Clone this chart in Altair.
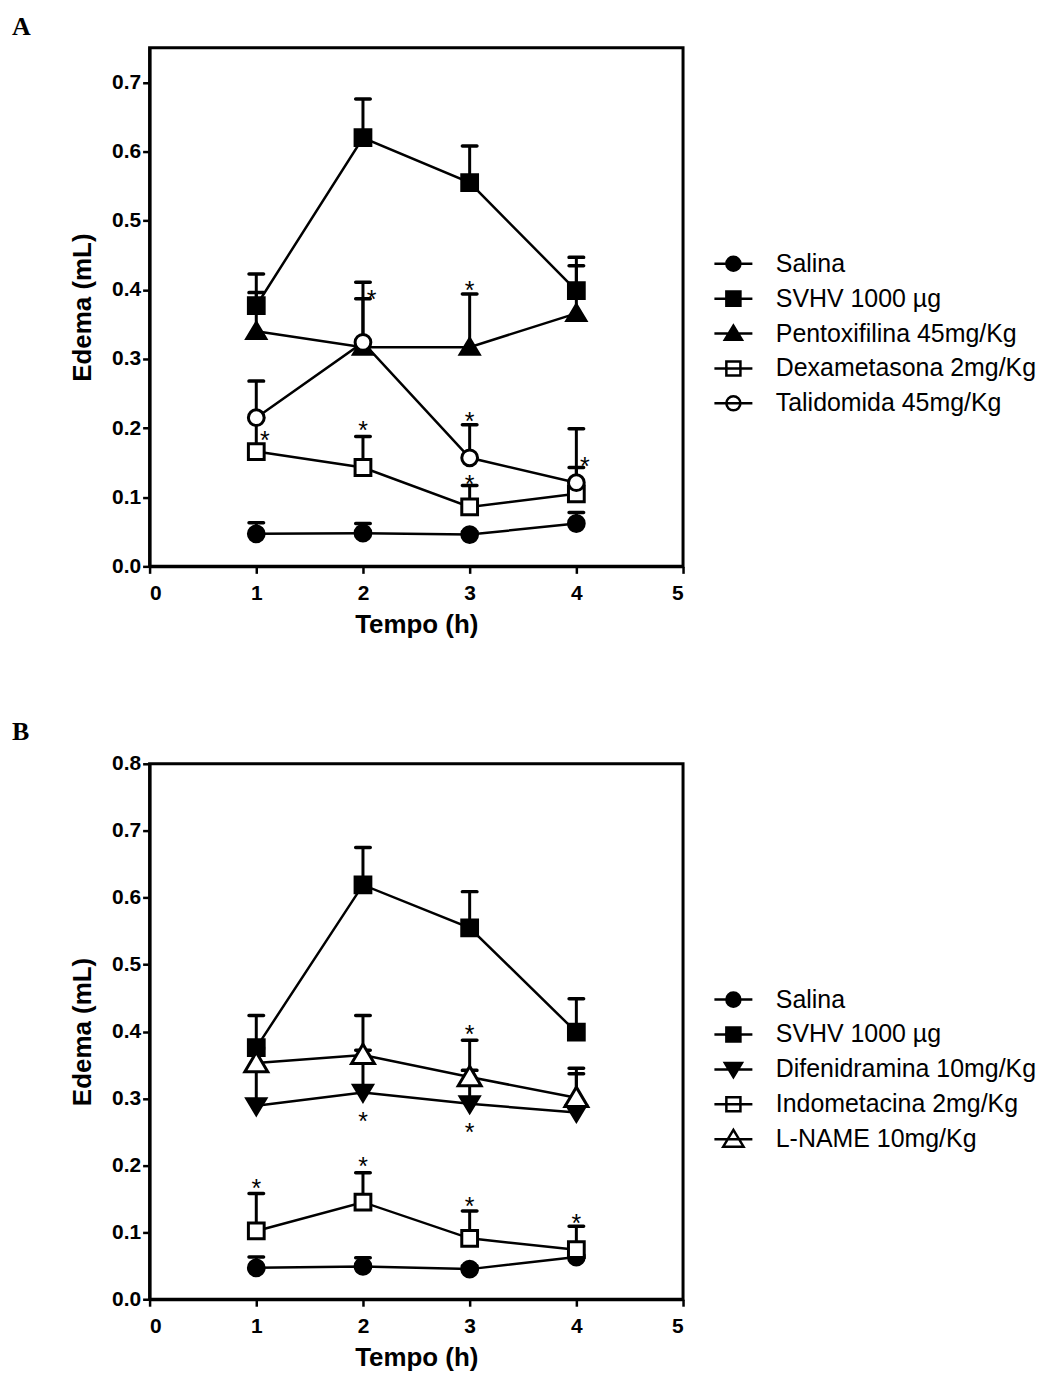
import altair as alt
import pandas as pd

times = [1, 2, 3, 4]

# ---------------- Panel A ----------------
a_series = ["Salina", "SVHV 1000 µg", "Pentoxifilina 45mg/Kg",
            "Dexametasona 2mg/Kg", "Talidomida 45mg/Kg"]
a_mean = {
    "Salina": [0.047, 0.048, 0.046, 0.062],
    "SVHV 1000 µg": [0.377, 0.620, 0.555, 0.399],
    "Pentoxifilina 45mg/Kg": [0.340, 0.317, 0.317, 0.366],
    "Dexametasona 2mg/Kg": [0.166, 0.143, 0.086, 0.105],
    "Talidomida 45mg/Kg": [0.215, 0.324, 0.157, 0.121],
}
a_top = {
    "Salina": [0.063, 0.062, 0.050, 0.078],
    "SVHV 1000 µg": [0.423, 0.676, 0.608, 0.447],
    "Pentoxifilina 45mg/Kg": [0.396, 0.387, 0.394, 0.435],
    "Dexametasona 2mg/Kg": [0.215, 0.188, 0.117, 0.143],
    "Talidomida 45mg/Kg": [0.268, 0.411, 0.205, 0.199],
}
a_open = ["Dexametasona 2mg/Kg", "Talidomida 45mg/Kg"]
a_star_x = [1.08, 2.08, 2.0, 3.0, 3.0, 3.0, 4.08]
a_star_y = [0.190, 0.394, 0.204, 0.407, 0.218, 0.127, 0.152]
a_yticks = [0.0, 0.1, 0.2, 0.3, 0.4, 0.5, 0.6, 0.7]

# ---------------- Panel B ----------------
b_series = ["Salina", "SVHV 1000 µg", "Difenidramina 10mg/Kg",
            "Indometacina 2mg/Kg", "L-NAME 10mg/Kg"]
b_mean = {
    "Salina": [0.047, 0.049, 0.045, 0.063],
    "SVHV 1000 µg": [0.376, 0.619, 0.555, 0.399],
    "Difenidramina 10mg/Kg": [0.289, 0.309, 0.292, 0.279],
    "Indometacina 2mg/Kg": [0.102, 0.145, 0.091, 0.074],
    "L-NAME 10mg/Kg": [0.353, 0.365, 0.332, 0.301],
}
b_top = {
    "Salina": [0.063, 0.062, 0.050, 0.066],
    "SVHV 1000 µg": [0.424, 0.675, 0.609, 0.449],
    "Difenidramina 10mg/Kg": [0.374, 0.372, 0.342, 0.337],
    "Indometacina 2mg/Kg": [0.158, 0.189, 0.132, 0.109],
    "L-NAME 10mg/Kg": [0.376, 0.424, 0.387, 0.345],
}
b_open = ["Indometacina 2mg/Kg", "L-NAME 10mg/Kg"]
b_star_x = [1, 2, 3, 4, 3, 2, 3]
b_star_y = [0.174, 0.207, 0.147, 0.122, 0.403, 0.274, 0.258]
b_yticks = [0.0, 0.1, 0.2, 0.3, 0.4, 0.5, 0.6, 0.7, 0.8]

# ---------------- marker styles ----------------
P_CIRCLE = "circle"
P_SQUARE = "square"
P_TRI_UP = "M0,-1.1L1.2,0.9L-1.2,0.9Z"
P_TRI_DOWN = "M0,1.1L1.2,-0.9L-1.2,-0.9Z"
P_TRI_OPEN = "M0,-1.35L1.45,1.1L-1.45,1.1Z"

L_LINE = "M-1.27,0H1.27"
L_CIRCLE = L_LINE + "M0.47,0A0.47,0.47,0,1,1,-0.47,0A0.47,0.47,0,1,1,0.47,0Z"
L_SQUARE = L_LINE + "M-0.47,-0.47H0.47V0.47H-0.47Z"
L_TRI_UP = L_LINE + "M0,-0.52L0.57,0.42H-0.57Z"
L_TRI_DOWN = L_LINE + "M0,0.52L0.57,-0.42H-0.57Z"
L_TRI_OPEN = L_LINE + "M0,-0.62L0.68,0.5H-0.68Z"

a_plot_shapes = [P_CIRCLE, P_SQUARE, P_TRI_UP, P_SQUARE, P_CIRCLE]
a_leg_shapes = [L_CIRCLE, L_SQUARE, L_TRI_UP, L_SQUARE, L_CIRCLE]
b_plot_shapes = [P_CIRCLE, P_SQUARE, P_TRI_DOWN, P_SQUARE, P_TRI_OPEN]
b_leg_shapes = [L_CIRCLE, L_SQUARE, L_TRI_DOWN, L_SQUARE, L_TRI_OPEN]

FONT = "Liberation Sans"
PLOT_W = 535


def panel(label, series, means, tops, open_list, plot_shapes, leg_shapes,
          star_x, star_y, ymax, yticks, height, leg_y):
    rows = []
    for s in series:
        for t, m, e in zip(times, means[s], tops[s]):
            rows.append({"series": s, "t": t, "mean": m, "top": e})
    df = pd.DataFrame(rows)
    fills = ["white" if s in open_list else "black" for s in series]

    x = alt.X("t:Q", scale=alt.Scale(domain=[0, 5], nice=False),
              axis=alt.Axis(values=[0, 1, 2, 3, 4, 5], format="d", title="Tempo (h)"))
    y = alt.Y("mean:Q", scale=alt.Scale(domain=[0, ymax], nice=False),
              axis=alt.Axis(values=yticks, format=".1f", title="Edema (mL)"))

    base = alt.Chart(df)
    bars = base.mark_rule(color="black", strokeWidth=3).encode(x=x, y=y, y2="top:Q")
    caps = base.mark_tick(color="black", orient="horizontal", size=18,
                          thickness=3.5, cornerRadius=1.7, opacity=1).encode(x="t:Q", y="top:Q")
    lines = base.mark_line(color="black", strokeWidth=2.5).encode(
        x="t:Q", y="mean:Q", detail="series:N", order="t:Q")
    pts = base.mark_point(size=250, stroke="black", strokeWidth=3, opacity=1).encode(
        x="t:Q", y="mean:Q",
        shape=alt.Shape("series:N", scale=alt.Scale(domain=series, range=plot_shapes), legend=None),
        fill=alt.Fill("series:N", scale=alt.Scale(domain=series, range=fills), legend=None),
    )
    legend = alt.Legend(
        title=None, orient="none", legendX=569, legendY=leg_y,
        symbolSize=900, symbolStrokeWidth=2.5, symbolStrokeColor="black",
        symbolOpacity=1, padding=0,
        labelFont=FONT, labelFontSize=25, labelColor="black",
        labelOffset=26, rowPadding=5, labelLimit=500,
    )
    leg = base.mark_point(size=900, opacity=0, filled=False).encode(
        x="t:Q", y="mean:Q",
        shape=alt.Shape("series:N", scale=alt.Scale(domain=series, range=leg_shapes), legend=legend),
        fill=alt.Fill("series:N", scale=alt.Scale(domain=series, range=fills), legend=legend),
        color=alt.Color("series:N", scale=alt.Scale(domain=series, range=["black"] * len(series)),
                        legend=legend),
    )
    stars = alt.Chart(pd.DataFrame({"t": star_x, "v": star_y})).mark_text(
        text="*", fontSize=25, font=FONT, baseline="middle", dy=6, color="black"
    ).encode(x="t:Q", y="v:Q")

    return alt.layer(bars, caps, lines, pts, leg, stars).resolve_scale(
        shape="independent", fill="independent", color="independent"
    ).properties(
        width=PLOT_W, height=height,
        title=alt.TitleParams(label, anchor="start", frame="group", dx=-138,
                              font="Liberation Serif", fontSize=26, fontWeight="bold",
                              color="black", offset=8),
    )


chart_a = panel("A", a_series, a_mean, a_top, a_open, a_plot_shapes, a_leg_shapes,
                a_star_x, a_star_y, 0.75, a_yticks, 520, 200)
chart_b = panel("B", b_series, b_mean, b_top, b_open, b_plot_shapes, b_leg_shapes,
                b_star_x, b_star_y, 0.8, b_yticks, 537, 220)

chart = alt.vconcat(chart_a, chart_b, spacing=78).properties(
    padding={"top": 2, "left": 2, "right": 2, "bottom": 0}
).configure_view(
    stroke="black", strokeWidth=3
).configure_axis(
    grid=False, domainColor="black", domainWidth=3, tickColor="black", tickWidth=2.5,
    tickSize=7, labelFont=FONT, labelFontSize=21, labelFontWeight="bold",
    labelColor="black", titleFont=FONT, titleFontSize=26, titleFontWeight="bold",
    titleColor="black",
).configure_axisY(titlePadding=16, labelPadding=2).configure_axisX(titlePadding=8, labelPadding=9)

chart.save("out.html", embed_options={"renderer": "svg", "actions": False})
